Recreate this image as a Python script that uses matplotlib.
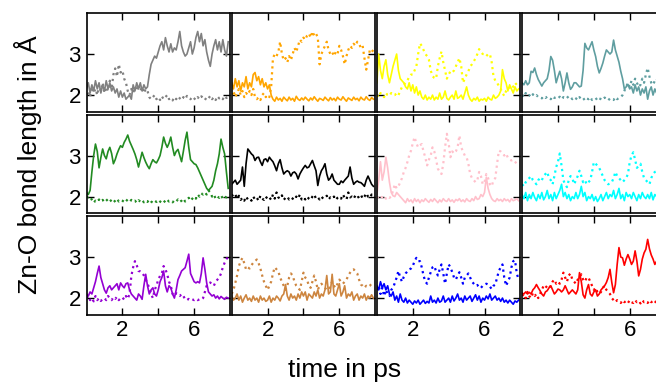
import numpy as np
import matplotlib
matplotlib.use("Agg")
import matplotlib.pyplot as plt

plt.rcParams['font.family'] = ['Liberation Sans', 'DejaVu Sans']

# time axis, 0.1 ps steps
t = np.arange(80) * 0.1

# bond lengths (solid / dotted), row by row
gray_s = [2.15, 2.3, 2.05, 2.25, 2.1, 2.35, 2.15, 2.3, 2.05, 2.25,
          2.1, 2.35, 2.15, 2.3, 2.1, 2.2, 2.05, 2.15, 1.95, 2.1,
          1.95, 2.05, 1.9, 1.95, 2.0, 1.9, 2.25, 2.1, 2.3, 2.15,
          2.3, 2.1, 2.25, 2.15, 2.2, 2.5, 2.75, 2.85, 2.95, 2.9,
          3.05, 3.2, 3.3, 3.1, 3.4, 3.2, 3.05, 3.25, 3.05, 3.15,
          3.1, 3.3, 3.55, 3.2, 3.05, 2.95, 3.0, 3.15, 3.3, 3.0,
          3.15, 3.4, 3.55, 3.3, 3.5, 3.2, 3.35, 3.05, 2.85, 2.7,
          3.0, 3.2, 3.35, 3.1, 3.3, 3.05, 3.35, 3.1, 2.95, 3.3]
gray_d = [2.0, 2.1, 1.95, 2.2, 2.05, 2.15, 2.0, 2.25, 2.1, 2.3,
          2.05, 2.2, 2.1, 2.35, 2.15, 2.5, 2.65, 2.45, 2.75, 2.55,
          2.6, 2.4, 2.3, 2.1, 2.0, 2.15, 2.05, 2.2, 2.1, 2.25,
          2.1, 2.2, 2.05, 2.15, 2.1, 1.95, 1.9, 1.95, 2.0, 1.9,
          1.95, 1.88, 1.97, 1.9, 1.95, 2.0, 1.9, 1.93, 1.87, 1.95,
          1.9, 1.97, 1.92, 1.88, 1.95, 1.9, 1.98, 1.92, 1.9, 1.96,
          1.92, 1.88, 1.95, 1.9, 1.97, 1.93, 1.88, 1.95, 1.92, 1.98,
          1.9, 1.95, 1.88, 1.97, 1.92, 1.95, 1.9, 1.98, 1.93, 1.95]

orange_s = [2.3, 2.15, 2.4, 2.2, 2.35, 2.1, 2.3, 2.2, 2.45, 2.15,
            2.3, 2.2, 2.5, 2.55, 2.35, 2.45, 2.25, 2.4, 2.2, 2.3,
            2.15, 2.25, 2.0, 1.9, 1.85, 1.95, 1.88, 1.92, 1.85, 1.95,
            1.9, 1.86, 1.95, 1.88, 1.92, 1.85, 1.97, 1.9, 1.87, 1.93,
            1.88, 1.95, 1.9, 1.86, 1.93, 1.88, 1.96, 1.9, 1.85, 1.92,
            1.9, 1.87, 1.95, 1.9, 1.86, 1.94, 1.88, 1.92, 1.86, 1.95,
            1.9, 1.88, 1.96, 1.9, 1.85, 1.93, 1.9, 1.87, 1.95, 1.89,
            1.92, 1.86, 1.95, 1.9, 1.88, 1.96, 1.9, 1.87, 1.94, 1.9]
orange_d = [2.0, 2.1, 1.95, 2.05, 2.15, 2.0, 2.1, 1.95, 2.05, 2.0,
            2.1, 2.0, 2.15, 1.95, 1.9, 1.95, 1.88, 2.0, 2.05, 1.95,
            2.0, 1.95, 2.2, 2.9, 3.0, 2.95, 3.05, 3.3, 3.0, 2.85,
            2.9, 2.8, 2.95, 2.85, 3.0, 3.15, 3.05, 3.2, 3.35, 3.3,
            3.4, 3.35, 3.45, 3.5, 3.4, 3.55, 3.45, 3.5, 3.4, 2.75,
            3.0, 3.1, 3.2, 3.3, 3.1, 3.0, 3.05, 2.95, 3.05, 3.0,
            3.2, 3.1, 2.95, 2.75, 2.95, 3.1, 3.2, 3.15, 3.25, 3.2,
            3.3, 3.25, 3.15, 3.2, 2.9, 2.62, 2.85, 3.1, 3.05, 3.1]

yellow_s = [2.3, 3.0, 2.6, 2.4, 2.7, 2.86, 2.5, 2.3, 2.5, 2.7,
            2.85, 3.0, 2.6, 2.4, 2.35, 2.3, 2.2, 2.15, 2.3, 2.1,
            2.25, 2.05, 2.2, 2.0, 2.1, 1.95, 1.9, 2.0, 1.88, 1.95,
            1.9, 2.0, 1.88, 1.95, 1.9, 2.05, 1.9, 1.95, 2.1, 1.92,
            1.88, 1.95, 2.0, 1.9, 2.1, 1.92, 1.95, 2.0, 1.9, 2.05,
            2.2, 2.0, 1.9, 1.85, 1.92, 1.88, 1.95, 1.85, 1.9, 1.88,
            1.92, 1.85, 1.95, 1.9, 1.88, 2.0, 1.92, 1.95, 2.0, 2.1,
            2.62, 2.4, 2.3, 2.1, 2.25, 2.15, 2.05, 2.2, 2.1, 2.15]
yellow_d = [2.0, 1.95, 2.05, 2.0, 1.95, 2.05, 2.0, 1.98, 2.05, 2.0,
            2.0, 2.05, 2.0, 2.1, 2.2, 2.25, 2.3, 2.35, 2.45, 2.5,
            2.5, 2.6, 2.7, 3.0, 3.26, 3.2, 3.1, 3.0, 2.95, 2.86,
            2.6, 2.46, 2.42, 2.4, 2.7, 2.9, 3.06, 2.8, 2.6, 2.4,
            2.5, 2.58, 2.55, 2.6, 2.7, 2.8, 2.9, 2.7, 2.3, 2.4,
            2.5, 2.58, 2.7, 2.75, 2.82, 2.9, 3.0, 3.12, 3.05, 3.0,
            3.0, 2.95, 3.0, 3.0, 2.8, 2.46, 2.35, 2.3, 2.22, 2.15,
            2.05, 1.98, 2.1, 2.15, 2.18, 2.25, 2.2, 2.3, 2.25, 2.2]

cadet_s = [2.3, 2.25, 2.35, 2.25, 2.3, 2.58, 2.55, 2.66, 2.5, 2.38,
           2.3, 2.22, 2.3, 2.35, 2.4, 2.6, 2.94, 2.85, 2.6, 2.3,
           2.45, 2.58, 2.4, 2.1, 2.3, 2.54, 2.3, 2.14, 2.2, 2.3,
           2.3, 2.25, 2.2, 2.22, 2.6, 3.26, 3.15, 3.1, 3.2, 3.3,
           3.1, 2.94, 2.7, 2.54, 2.65, 2.78, 2.95, 3.1, 3.05, 3.0,
           3.05, 3.34, 3.1, 2.95, 2.8, 2.58, 2.4, 2.15, 2.2, 2.26,
           2.15, 2.2, 2.05, 2.25, 2.1, 2.2, 2.0, 2.15, 2.05, 2.2,
           1.9, 2.1, 2.2, 2.0, 2.15, 2.05, 2.2, 2.1, 2.0, 2.15]
cadet_d = [2.0, 1.95, 2.05, 1.98, 2.0, 1.95, 2.02, 1.97, 2.0, 1.95,
           1.95, 1.92, 1.97, 1.93, 1.96, 1.95, 1.9, 1.97, 1.93, 1.95,
           1.92, 1.96, 1.9, 1.95, 1.93, 1.97, 1.92, 1.95, 1.9, 1.95,
           1.92, 1.88, 1.95, 1.9, 1.93, 1.87, 1.92, 1.9, 1.95, 1.88,
           1.9, 1.93, 1.87, 1.92, 1.9, 1.88, 1.94, 1.9, 1.87, 1.92,
           1.9, 1.88, 1.95, 1.9, 1.93, 1.95, 2.0, 2.1, 2.2, 2.3,
           2.2, 2.35, 2.25, 2.4, 2.3, 2.2, 2.25, 2.4, 2.3, 2.5,
           2.66, 2.45, 2.3, 2.25, 2.35, 2.4, 2.28, 2.35, 2.25, 2.3]

green_s = [2.1, 2.05, 2.15, 2.6, 3.0, 3.28, 3.1, 2.7, 2.95, 3.16,
           3.0, 2.92, 3.1, 3.2, 3.05, 2.8, 2.9, 3.04, 3.15, 3.24,
           3.2, 3.32, 3.4, 3.5, 3.35, 3.25, 3.15, 3.04, 2.9, 2.72,
           2.9, 3.08, 2.95, 2.84, 2.75, 2.68, 2.8, 2.9, 2.85, 2.82,
           2.9, 3.0, 3.2, 3.45, 3.3, 3.2, 3.3, 3.45, 3.2, 3.0,
           3.1, 3.15, 3.0, 2.85, 3.1, 3.37, 3.57, 3.2, 2.9, 2.85,
           2.8, 2.78, 2.7, 2.6, 2.5, 2.4, 2.3, 2.2, 2.15, 2.2,
           2.25, 2.4, 2.63, 2.8, 3.04, 3.4, 3.2, 3.04, 2.6, 2.2]
green_d = [2.0, 1.98, 2.0, 1.92, 1.85, 1.9, 1.87, 1.93, 1.88, 1.92,
           1.86, 1.9, 1.94, 1.88, 1.92, 1.86, 1.9, 1.95, 1.88, 1.92,
           1.9, 1.87, 1.93, 1.89, 1.86, 1.92, 1.88, 1.9, 1.85, 1.91,
           1.88, 1.92, 1.86, 1.9, 1.87, 1.93, 1.88, 1.85, 1.9, 1.87,
           1.92, 1.88, 1.85, 1.9, 1.86, 1.92, 1.88, 1.9, 1.86, 1.91,
           1.88, 1.93, 1.87, 1.9, 1.95, 1.88, 1.92, 1.97, 1.9, 1.95,
           2.0, 1.95, 2.05, 2.0, 2.08, 2.05, 2.1, 2.05, 2.15, 2.1,
           2.0, 2.05, 1.95, 2.0, 1.97, 2.03, 1.95, 2.0, 1.98, 2.02]

black_s = [2.3, 2.35, 2.4, 2.3, 2.35, 2.4, 2.72, 2.25, 2.8, 3.16,
           3.1, 3.04, 3.0, 2.88, 2.95, 2.96, 2.85, 2.76, 2.9, 2.92,
           2.85, 2.96, 2.9, 2.85, 2.75, 2.63, 2.8, 2.9, 2.7, 2.55,
           2.6, 2.63, 2.6, 2.5, 2.58, 2.6, 2.55, 2.43, 2.55, 2.63,
           2.7, 2.76, 2.7, 2.72, 2.8, 2.88, 2.75, 2.63, 2.27, 2.5,
           2.63, 2.7, 2.8, 2.55, 2.4, 2.45, 2.55, 2.4, 2.35, 2.3,
           2.3, 2.38, 2.34, 2.4, 2.45, 2.5, 2.72, 2.45, 2.3, 2.35,
           2.38, 2.35, 2.34, 2.3, 2.25, 2.4, 2.5, 2.4, 2.3, 2.25]
black_d = [2.05, 2.0, 2.05, 1.95, 2.02, 1.92, 1.97, 1.9, 2.0, 1.93,
           1.95, 1.9, 2.0, 1.93, 1.97, 1.9, 2.02, 1.95, 1.92, 2.0,
           1.94, 1.98, 1.92, 2.05, 1.95, 2.1, 1.98, 1.95, 2.03, 1.92,
           1.97, 2.0, 1.93, 1.98, 1.95, 1.92, 2.0, 1.95, 2.05, 1.93,
           1.98, 1.93, 2.0, 1.95, 1.92, 2.0, 2.05, 1.95, 1.98, 1.93,
           2.0, 1.95, 1.97, 2.02, 1.93, 1.98, 1.95, 2.0, 1.92, 1.97,
           2.0, 1.95, 2.05, 1.97, 1.93, 2.1, 1.98, 2.0, 1.95, 2.03,
           1.97, 2.0, 2.05, 1.95, 2.0, 2.08, 2.0, 1.97, 2.05, 2.0]

pink_s = [2.05, 2.4, 2.85, 2.4, 2.6, 2.96, 2.7, 2.35, 2.1, 2.02,
          2.0, 2.1, 2.05, 2.0, 1.95, 1.9, 1.85, 1.95, 1.88, 1.92,
          1.85, 1.95, 1.88, 1.93, 1.85, 1.92, 1.88, 1.95, 1.9, 1.86,
          1.93, 1.88, 1.95, 1.9, 1.85, 1.92, 1.87, 1.95, 1.9, 1.88,
          1.95, 1.88, 1.92, 1.86, 1.93, 1.9, 1.95, 1.88, 1.92, 1.87,
          1.95, 1.9, 1.88, 1.95, 1.9, 2.0, 1.93, 1.95, 2.05, 2.0,
          2.1, 2.47, 2.2, 2.05, 1.95, 1.9, 1.88, 1.95, 1.9, 1.93,
          1.88, 1.95, 1.9, 1.93, 1.87, 1.95, 1.9, 1.92, 1.95, 1.9]
pink_d = [2.0, 1.95, 2.0, 1.98, 2.02, 1.95, 2.0, 1.97, 2.0, 2.15,
          2.3, 2.2, 2.25, 2.35, 2.45, 2.6, 2.7, 2.84, 3.0, 3.12,
          3.3, 3.45, 3.3, 3.2, 3.25, 3.28, 3.1, 2.95, 2.76, 2.9,
          3.0, 3.2, 3.1, 2.9, 2.68, 2.6, 2.55, 2.8, 3.2, 3.53,
          3.3, 2.96, 3.1, 3.05, 3.1, 3.2, 3.49, 3.2, 3.1, 3.0,
          2.96, 2.8, 2.55, 2.45, 2.4, 2.35, 2.4, 2.6, 2.5, 2.3,
          2.35, 2.55, 2.45, 2.3, 2.25, 2.4, 2.45, 2.8, 3.12, 3.1,
          3.05, 3.0, 3.05, 2.95, 2.9, 2.88, 2.9, 2.85, 2.8, 2.85]

cyan_s = [2.05, 1.95, 2.1, 1.9, 2.05, 1.95, 2.1, 1.98, 1.9, 2.05,
          1.95, 2.1, 1.92, 2.0, 2.15, 1.95, 2.05, 1.9, 2.1, 1.95,
          2.05, 2.15, 2.3, 2.0, 2.1, 1.95, 2.05, 1.9, 2.0, 1.95,
          2.1, 1.95, 2.05, 2.25, 2.0, 2.1, 1.9, 2.0, 1.95, 2.05,
          1.9, 2.0, 1.88, 1.95, 2.05, 1.9, 2.0, 2.1, 1.95, 2.05,
          2.0, 2.15, 1.95, 2.05, 2.2, 1.95, 2.05, 1.9, 2.1, 2.0,
          2.05, 1.95, 2.1, 2.0, 1.9, 2.05, 1.95, 2.1, 2.0, 1.95,
          2.05, 1.95, 2.1, 1.92, 2.05, 2.0, 1.95, 2.1, 2.0, 2.05]
cyan_d = [2.3, 2.25, 2.35, 2.4, 2.45, 2.5, 2.4, 2.35, 2.3, 2.4,
          2.45, 2.4, 2.5, 2.55, 2.6, 2.45, 2.4, 2.3, 2.5, 2.72,
          2.85, 3.05, 2.75, 2.4, 2.3, 2.23, 2.4, 2.5, 2.45, 2.3,
          2.4, 2.5, 2.63, 2.5, 2.35, 2.4, 2.3, 2.35, 2.4, 2.6,
          2.84, 2.8, 2.75, 2.7, 2.6, 2.5, 2.4, 2.35, 2.3, 2.32,
          2.35, 2.45, 2.6, 2.5, 2.45, 2.4, 2.35, 2.4, 2.45, 2.55,
          2.84, 3.0, 3.08, 2.9, 2.7, 2.75, 2.8, 2.6, 2.45, 2.4,
          2.35, 2.3, 2.45, 2.55, 2.6, 2.62, 2.5, 2.45, 2.35, 2.4]

violet_s = [2.1, 2.05, 2.15, 2.1, 2.25, 2.4, 2.6, 2.78, 2.5, 2.35,
            2.2, 2.12, 2.25, 2.3, 2.2, 2.25, 2.3, 2.35, 2.2, 2.37,
            2.3, 2.25, 2.35, 2.37, 2.2, 2.1, 2.05, 2.0, 1.95, 2.1,
            2.05, 1.97, 2.3, 2.58, 2.3, 2.1, 2.2, 2.25, 2.1, 2.05,
            2.2, 2.4, 2.5, 2.66, 2.3, 2.15, 2.3, 2.25, 2.1, 2.0,
            2.2, 2.45, 2.55, 2.66, 2.7, 2.74, 2.9, 3.07, 2.6, 2.5,
            2.4, 2.37, 2.4, 2.37, 2.6, 2.98, 2.7, 2.37, 2.15, 2.1,
            2.05, 2.08, 2.0, 2.05, 1.98, 2.04, 2.0, 1.97, 2.02, 2.0]
violet_d = [2.0, 2.05, 1.95, 2.0, 1.92, 2.05, 1.95, 2.0, 1.93, 1.98,
            2.0, 1.95, 2.05, 2.0, 1.95, 2.02, 1.98, 2.03, 1.95, 2.0,
            2.02, 1.96, 2.05, 1.98, 2.1, 2.54, 2.75, 2.9, 2.8, 2.66,
            2.65, 2.62, 2.55, 2.45, 2.35, 2.25, 2.1, 2.0, 2.2, 2.3,
            2.45, 2.54, 2.6, 2.78, 2.7, 2.58, 2.4, 2.3, 2.1, 2.05,
            2.12, 2.08, 2.05, 2.1, 2.05, 1.97, 1.95, 1.98, 1.95, 1.97,
            1.95, 1.98, 1.95, 1.97, 1.96, 2.0, 2.15, 2.3, 2.35, 2.38,
            2.33, 2.3, 2.4, 2.45, 2.5, 2.6, 2.75, 2.86, 2.95, 3.0]

peru_s = [2.05, 1.95, 2.0, 2.1, 1.95, 2.05, 1.9, 2.0, 2.08, 1.95,
          2.0, 1.92, 2.05, 1.95, 2.0, 1.9, 2.05, 1.95, 2.0, 1.92,
          1.95, 2.05, 1.9, 2.0, 1.95, 2.05, 2.0, 1.93, 2.05, 2.1,
          2.33, 2.05, 1.95, 2.1, 2.0, 2.05, 1.95, 2.1, 2.0, 2.15,
          2.05, 2.15, 1.95, 2.1, 2.05, 2.0, 2.15, 2.05, 2.2, 2.0,
          2.1, 2.05, 2.2, 2.55, 2.1, 2.15, 2.58, 2.1, 2.05, 2.2,
          2.35, 2.05, 2.15, 2.3, 2.0, 2.1, 2.05, 2.15, 1.95, 2.05,
          2.1, 1.95, 2.05, 2.0, 2.1, 1.95, 2.05, 2.0, 2.08, 2.0]
peru_d = [2.1, 2.2, 2.37, 2.55, 2.78, 2.9, 2.98, 2.85, 2.7, 2.75,
          2.72, 2.8, 2.86, 2.9, 2.94, 2.85, 2.72, 2.55, 2.4, 2.3,
          2.2, 2.3, 2.4, 2.6, 2.75, 2.7, 2.65, 2.5, 2.4, 2.3,
          2.2, 2.3, 2.5, 2.6, 2.55, 2.4, 2.3, 2.25, 2.2, 2.4,
          2.62, 2.5, 2.45, 2.3, 2.25, 2.4, 2.55, 2.4, 2.2, 2.3,
          2.35, 2.3, 2.25, 2.2, 2.2, 2.3, 2.4, 2.3, 2.25, 2.35,
          2.45, 2.4, 2.35, 2.4, 2.45, 2.55, 2.62, 2.68, 2.7, 2.65,
          2.6, 2.45, 2.33, 2.3, 2.25, 2.3, 2.27, 2.3, 2.35, 2.3]

blue_s = [2.3, 2.2, 2.4, 2.25, 2.35, 2.2, 2.3, 2.1, 2.05, 2.15,
          1.95, 2.05, 1.9, 2.1, 1.95, 1.9, 2.0, 1.88, 1.95, 1.9,
          1.85, 1.93, 1.88, 1.95, 1.85, 1.9, 1.95, 1.87, 1.92, 1.88,
          2.05, 1.9, 1.95, 1.88, 2.0, 1.9, 1.93, 2.05, 1.9, 1.95,
          2.0, 1.9, 2.05, 1.93, 2.0, 2.1, 1.95, 2.0, 1.9, 2.05,
          1.95, 2.0, 2.05, 1.92, 2.0, 2.08, 1.95, 2.05, 1.9, 2.0,
          1.95, 2.05, 1.98, 2.1, 1.95, 2.0, 2.05, 1.95, 2.0, 1.92,
          2.0, 1.9, 1.95, 1.88, 1.95, 1.9, 1.85, 1.93, 1.9, 1.95]
blue_d = [2.2, 2.3, 2.1, 2.25, 2.05, 2.2, 2.1, 2.05, 2.2, 2.25,
          2.37, 2.5, 2.66, 2.5, 2.4, 2.52, 2.6, 2.65, 2.7, 2.72,
          2.78, 2.9, 2.98, 2.9, 2.9, 2.75, 2.55, 2.4, 2.35, 2.5,
          2.63, 2.75, 2.78, 2.65, 2.55, 2.7, 2.82, 2.6, 2.35, 2.6,
          2.82, 2.75, 2.63, 2.5, 2.45, 2.55, 2.63, 2.5, 2.35, 2.5,
          2.55, 2.6, 2.5, 2.4, 2.35, 2.3, 2.32, 2.25, 2.25, 2.3,
          2.33, 2.35, 2.33, 2.28, 2.22, 2.3, 2.33, 2.5, 2.66, 2.75,
          2.82, 2.5, 2.3, 2.4, 2.5, 2.75, 2.9, 2.92, 2.6, 2.45]

red_s = [2.12, 2.1, 2.15, 2.1, 2.14, 2.1, 2.2, 2.25, 2.33, 2.25,
         2.18, 2.1, 2.05, 2.15, 2.18, 2.25, 2.3, 2.2, 2.1, 2.15,
         2.22, 2.2, 2.15, 2.2, 2.3, 2.2, 2.1, 2.15, 2.2, 2.15,
         2.1, 2.2, 2.62, 2.4, 2.08, 2.0, 2.2, 2.33, 2.1, 2.05,
         2.15, 2.2, 2.05, 2.1, 2.2, 2.25, 2.3, 2.38, 2.5, 2.7,
         2.38, 2.13, 2.33, 2.82, 3.23, 3.0, 2.98, 2.8, 2.95, 3.06,
         2.95, 2.82, 2.9, 3.15, 2.9, 2.54, 2.7, 2.95, 3.1, 3.19,
         3.43, 3.2, 3.05, 2.95, 2.82, 2.9, 2.8, 2.85, 2.75, 2.73]
red_d = [2.05, 2.1, 2.0, 2.15, 2.05, 2.0, 2.12, 2.05, 2.1, 2.0,
         2.1, 2.2, 2.3, 2.25, 2.3, 2.25, 2.3, 2.4, 2.45, 2.35,
         2.4, 2.35, 2.45, 2.62, 2.5, 2.4, 2.55, 2.6, 2.45, 2.4,
         2.35, 2.45, 2.5, 2.58, 2.45, 2.4, 2.5, 2.5, 2.4, 2.3,
         2.2, 2.25, 2.15, 2.1, 2.15, 2.25, 2.3, 2.2, 2.15, 2.1,
         2.0, 1.95, 1.9, 1.95, 1.92, 1.88, 1.95, 1.9, 1.93, 1.88,
         1.95, 1.9, 1.88, 1.95, 1.9, 1.93, 1.87, 1.95, 1.9, 1.92,
         1.88, 1.95, 1.9, 1.93, 1.88, 1.95, 1.9, 1.92, 1.87, 1.95]

panels = [
    [("gray", gray_s, gray_d), ("orange", orange_s, orange_d),
     ("yellow", yellow_s, yellow_d), ("cadetblue", cadet_s, cadet_d)],
    [("forestgreen", green_s, green_d), ("black", black_s, black_d),
     ("pink", pink_s, pink_d), ("cyan", cyan_s, cyan_d)],
    [("darkviolet", violet_s, violet_d), ("peru", peru_s, peru_d),
     ("blue", blue_s, blue_d), ("red", red_s, red_d)],
]

W, H = 656, 383
fig = plt.figure(figsize=(W / 100, H / 100), dpi=100)

# panel boxes in pixels; neighbouring spines sit side by side
pw, ph = 143.5, 98.5
lefts = [86.5, 86.5 + 145.2, 86.5 + 2 * 145.2, 86.5 + 3 * 145.2]
tops = [13, 114.5, 216]

for r, row in enumerate(panels):
    for c, (col, solid, dotted) in enumerate(row):
        ax = fig.add_axes([lefts[c] / W, 1 - (tops[r] + ph) / H, pw / W, ph / H])
        ax.plot(t, dotted, color=col, ls=':', lw=1.6)
        ax.plot(t, solid, color=col, ls='-', lw=1.2)
        ax.set_xlim(0, 8)
        ax.set_ylim(1.6, 4.0)
        ax.set_xticks([2, 4, 6])
        ax.set_yticks([2, 3])
        ax.tick_params(direction='in', top=True, right=True, length=5,
                       width=1, labelsize=16, pad=4)
        for sp in ax.spines.values():
            sp.set_linewidth(1.2)
        if r == 2:
            ax.set_xticklabels(['2', '', '6'])
        else:
            ax.set_xticklabels([])
        if c != 0:
            ax.set_yticklabels([])

fig.text(28 / W, 1 - 165 / H, "Zn-O bond length in Å", rotation=90,
         fontsize=19, ha='center', va='center')
fig.text(345 / W, 1 - 370 / H, "time in ps", fontsize=19,
         ha='center', va='center')

fig.savefig("out.png", dpi=100)
